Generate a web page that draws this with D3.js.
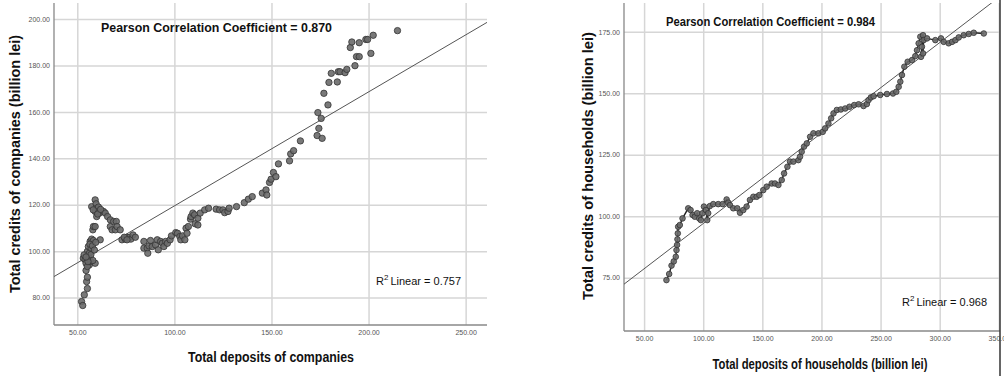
<!DOCTYPE html>
<html>
<head>
<meta charset="utf-8">
<script src="https://cdn.jsdelivr.net/npm/d3@7"></script>
<style>
  body { margin: 0; background: #fff; }
  svg { display: block; font-family: "Liberation Sans", Arial, sans-serif; }
</style>
</head>
<body>
<svg id="chart" width="1004" height="376"></svg>
<script>
'use strict';

// companies: deposits (x) vs credits (y), billion lei
var companyDeposits = [52.2, 52.8, 53.6, 55.2, 54.8, 55.2, 54.5, 53.1, 54.0, 55.2, 54.5, 56.2, 56.9, 59.2,
  55.2, 55.7, 56.6, 57.4, 58.3, 55.2, 53.5, 56.2, 57.1, 58.0, 58.3, 59.2, 57.4, 59.2, 59.7, 60.0, 60.9,
  60.0, 61.4, 59.2, 61.8, 63.5, 64.4, 65.6, 67.0, 67.0, 67.9, 68.7, 70.1, 69.6, 70.5, 72.1, 73.0, 74.7,
  75.6, 76.9, 77.6, 78.7, 79.9, 74.2, 75.6, 56.0, 57.0, 58.0, 56.5, 57.8, 55.5, 54.5, 58.8, 59.5, 58.2,
  60.5, 62.0,
  84.3, 84.3, 86.0, 86.3, 86.9, 87.7, 88.6, 90.3, 91.2, 91.7, 92.9, 93.8, 94.6, 95.5, 96.4, 97.8, 98.5,
  100.7, 101.6, 102.8, 103.3, 104.2, 105.4, 106.0, 106.5, 107.2, 108.3, 108.6, 109.5, 110.4, 110.7, 112.1,
  112.1, 113.3, 115.6, 117.6, 121.5, 123.3, 125.0, 125.9, 127.6, 128.2, 132.0, 136.0, 138.1, 140.1, 145.3,
  147.2, 147.6, 149.0, 149.8, 151.0, 152.3, 153.6, 159.3, 159.9, 161.4, 164.9, 173.5, 176.1, 174.4, 175.6,
  173.9, 179.1, 177.0, 179.6, 180.8, 183.9, 184.4, 185.3, 187.9, 188.8, 190.6, 191.4, 193.0, 193.8, 195.2,
  195.2, 198.6, 199.5, 201.2, 202.4, 214.9];
var companyCredits = [78.3, 76.6, 81.2, 83.9, 86.9, 88.8, 91.7, 97.0, 96.3, 97.7, 94.8, 94.1, 95.6, 94.8,
  99.9, 102.0, 104.2, 105.2, 104.6, 93.4, 98.4, 99.1, 101.3, 109.2, 110.6, 110.6, 119.2, 122.1, 120.4, 118.5, 119.0,
  114.9, 116.4, 117.1, 104.9, 117.1, 116.4, 114.9, 113.5, 110.6, 109.2, 112.8, 112.8, 109.2, 110.6, 109.2, 104.9, 105.2,
  106.0, 106.0, 105.2, 107.0, 106.0, 106.0, 104.9, 97.0, 98.5, 96.0, 103.0, 102.3, 95.5, 97.5, 100.5, 103.8, 117.8,
  116.0, 118.0,
  104.2, 101.3, 101.3, 99.1, 102.3, 104.6, 102.0, 102.7, 104.9, 100.6, 104.2, 103.4, 102.0, 104.2, 103.4, 104.9, 106.6,
  108.0, 107.7, 106.3, 104.9, 106.6, 104.9, 109.9, 107.7, 110.6, 113.8, 114.9, 116.4, 115.7, 111.8, 111.3,
  114.2, 116.4, 117.8, 118.5, 118.1, 117.8, 117.8, 116.6, 117.1, 118.5, 119.2, 120.9, 122.4, 123.5, 125.0,
  126.4, 124.2, 129.6, 131.0, 133.9, 132.1, 137.6, 138.9, 141.9, 143.3, 147.5, 149.8, 148.6, 152.9, 157.2,
  159.7, 163.0, 168.0, 172.7, 176.6, 172.9, 177.3, 177.3, 176.9, 178.3, 187.7, 190.1, 179.9, 183.8, 183.8,
  189.8, 191.2, 191.2, 185.2, 193.0, 195.0];

// households, in time order (the points are joined)
var householdDeposits = [68.9, 71.2, 73.2, 75.1, 76.8, 77.4, 77.9, 78.2, 78.5, 78.8, 80.2, 82.5, 87.3, 89.3,
  91.0, 92.9, 94.9, 96.6, 98.0, 99.4, 100.6, 102.3, 103.4, 104.2, 105.6, 108.5, 112.7, 116.4, 119.8, 121.2,
  122.6, 125.4, 128.8, 131.1, 133.9, 136.7, 139.5, 142.4, 145.2, 147.5, 150.8, 153.7, 157.9, 160.7, 163.6,
  166.4, 168.4, 171.2, 173.4, 176.3, 180.5, 181.9, 183.3, 185.3, 187.6, 190.4, 193.2, 197.5, 201.1, 203.1,
  205.9, 208.2, 210.2, 213.0, 216.4, 220.1, 223.7, 227.7, 231.4, 235.6, 238.4, 239.8, 241.8, 244.1, 249.7,
  255.4, 260.5, 263.3, 265.3, 266.7, 268.1, 270.1, 272.9, 276.6, 279.4, 280.8, 282.2, 283.6, 285.9, 285.0,
  284.2, 285.9, 286.4, 289.3, 296.3, 301.1, 303.4, 307.6, 310.5, 313.3, 316.1, 320.3, 324.6, 328.8, 337.3];
var householdCredits = [74.0, 76.5, 79.9, 81.6, 83.5, 86.2, 88.3, 90.6, 93.0, 95.7, 96.4, 99.1, 103.2, 102.5,
  100.5, 99.8, 101.2, 99.1, 98.4, 101.2, 103.9, 102.5, 98.4, 101.2, 104.1, 104.9, 104.9, 104.9, 106.8, 105.5,
  104.5, 103.2, 103.2, 101.4, 102.5, 103.9, 106.6, 107.9, 107.9, 108.6, 110.6, 112.0, 113.3, 113.3, 112.7,
  114.7, 117.4, 120.1, 122.2, 122.2, 122.8, 124.2, 126.2, 128.3, 129.6, 132.3, 133.7, 133.7, 134.3, 135.7,
  137.7, 139.8, 141.8, 143.2, 143.4, 143.8, 144.5, 145.2, 145.5, 144.8, 145.6, 147.2, 148.3, 148.8, 149.3,
  149.7, 149.9, 150.6, 152.6, 154.7, 157.4, 160.8, 162.8, 163.5, 165.1, 167.5, 170.3, 173.0, 173.6, 168.9,
  164.8, 166.2, 171.6, 172.3, 171.6, 172.3, 170.9, 170.3, 170.9, 171.6, 172.7, 173.6, 174.1, 174.6, 174.3];

var companyXTicks = [50, 100, 150, 200, 250];
var companyYTicks = [80, 100, 120, 140, 160, 180, 200];
var householdXTicks = [50, 100, 150, 200, 250, 300, 350];
var householdYTicks = [75, 100, 125, 150, 175];

// fit lines as drawn in the picture: [intercept, slope]
var companyFit = [70.4, 0.491];
var householdFit = [60.2, 0.368];

var svg = d3.select('#chart');
var fmt = d3.format('.2f');

function drawPanel(opts) {
  var x = d3.scaleLinear().domain(opts.xDomain).range([opts.left, opts.right]);
  var y = d3.scaleLinear().domain(opts.yDomain).range([opts.bottom, opts.top]);
  var g = svg.append('g');

  g.append('clipPath').attr('id', opts.id + '-clip')
    .append('rect')
    .attr('x', opts.left).attr('y', opts.top)
    .attr('width', opts.right - opts.left).attr('height', opts.bottom - opts.top);

  // grid
  g.append('g').attr('transform', 'translate(0,' + opts.bottom + ')')
    .call(d3.axisBottom(x).tickValues(opts.xTicks).tickSize(-(opts.bottom - opts.top)).tickFormat(''))
    .call(function (s) {
      s.select('.domain').remove();
      s.selectAll('line').attr('stroke', '#d6d6d6').attr('stroke-width', 1.5);
    });
  g.append('g').attr('transform', 'translate(' + opts.left + ',0)')
    .call(d3.axisLeft(y).tickValues(opts.yTicks).tickSize(-(opts.right - opts.left)).tickFormat(''))
    .call(function (s) {
      s.select('.domain').remove();
      s.selectAll('line').attr('stroke', '#d6d6d6').attr('stroke-width', 1.5);
    });

  // tick labels
  g.append('g').attr('transform', 'translate(0,' + opts.bottom + ')')
    .call(d3.axisBottom(x).tickValues(opts.xTicks).tickSize(0).tickPadding(opts.xPad).tickFormat(fmt))
    .call(function (s) {
      s.select('.domain').remove();
      s.selectAll('text').attr('font-size', 7).attr('fill', '#555').attr('font-family', 'Liberation Sans, Arial');
    });
  g.append('g').attr('transform', 'translate(' + opts.left + ',0)')
    .call(d3.axisLeft(y).tickValues(opts.yTicks).tickSize(0).tickPadding(4).tickFormat(fmt))
    .call(function (s) {
      s.select('.domain').remove();
      s.selectAll('text').attr('font-size', 7).attr('fill', '#555').attr('font-family', 'Liberation Sans, Arial');
    });

  // axis lines
  g.append('line').attr('x1', opts.left).attr('x2', opts.left).attr('y1', opts.top).attr('y2', opts.bottom)
    .attr('stroke', '#888').attr('stroke-width', 1.3);
  g.append('line').attr('x1', opts.left).attr('x2', opts.right).attr('y1', opts.bottom).attr('y2', opts.bottom)
    .attr('stroke', '#888').attr('stroke-width', 1.3);
  if (opts.frameRight) {
    g.append('line').attr('x1', opts.right).attr('x2', opts.right).attr('y1', 0).attr('y2', 376)
      .attr('stroke', '#333').attr('stroke-width', 1.5);
  }

  var plot = g.append('g').attr('clip-path', 'url(#' + opts.id + '-clip)');

  // fit line
  var fx = opts.xDomain;
  plot.append('line')
    .attr('x1', x(fx[0])).attr('y1', y(opts.fit[0] + opts.fit[1] * fx[0]))
    .attr('x2', x(fx[1])).attr('y2', y(opts.fit[0] + opts.fit[1] * fx[1]))
    .attr('stroke', '#555').attr('stroke-width', 1);

  var pts = opts.xs.map(function (d, i) { return [d, opts.ys[i]]; });

  if (opts.joined) {
    plot.append('path').datum(pts)
      .attr('d', d3.line().x(function (d) { return x(d[0]); }).y(function (d) { return y(d[1]); }))
      .attr('fill', 'none').attr('stroke', '#222').attr('stroke-width', 1.4);
  }

  plot.selectAll('circle.pt').data(pts).enter()
    .append('circle').attr('class', 'pt')
    .attr('cx', function (d) { return x(d[0]); })
    .attr('cy', function (d) { return y(d[1]); })
    .attr('r', opts.r)
    .attr('fill', '#6a6a6a').attr('fill-opacity', 0.9)
    .attr('stroke', '#333').attr('stroke-width', 0.8);

  // texts
  g.append('text').attr('x', opts.pearson.x).attr('y', opts.pearson.y)
    .attr('font-size', 13).attr('font-weight', 'bold').attr('fill', '#111')
    .attr('textLength', opts.pearson.w).attr('lengthAdjust', 'spacingAndGlyphs')
    .text('Pearson Correlation Coefficient = ' + opts.pearson.v);

  var r2 = g.append('text').attr('x', opts.r2.x).attr('y', opts.r2.y)
    .attr('font-size', 11).attr('fill', '#111');
  r2.append('tspan').text('R');
  r2.append('tspan').attr('dy', -5).attr('font-size', 8).text('2');
  r2.append('tspan').attr('dy', 5).attr('dx', 2).text('Linear = ' + opts.r2.v);

  g.append('text')
    .attr('transform', 'translate(' + opts.yTitle.x + ',' + opts.yTitle.y + ') rotate(-90)')
    .attr('text-anchor', 'middle').attr('dy', '0.35em')
    .attr('font-size', 14).attr('font-weight', 'bold').attr('fill', '#111')
    .attr('textLength', opts.yTitle.w).attr('lengthAdjust', 'spacingAndGlyphs')
    .text(opts.yTitle.t);

  g.append('text')
    .attr('x', opts.xTitle.x).attr('y', opts.xTitle.y)
    .attr('text-anchor', 'middle').attr('dy', '0.35em')
    .attr('font-size', 14).attr('font-weight', 'bold').attr('fill', '#111')
    .attr('textLength', opts.xTitle.w).attr('lengthAdjust', 'spacingAndGlyphs')
    .text(opts.xTitle.t);
}

drawPanel({
  id: 'companies',
  left: 54, right: 487, top: 3, bottom: 325,
  xDomain: [38, 261], yDomain: [68.2, 206.9],
  xTicks: companyXTicks, yTicks: companyYTicks, xPad: 5,
  xs: companyDeposits, ys: companyCredits, fit: companyFit,
  r: 3.2, joined: false,
  pearson: { x: 101, y: 32, w: 231, v: '0.870' },
  r2: { x: 376, y: 285, v: '0.757' },
  yTitle: { x: 15, y: 164, w: 258, t: 'Total credits of companies (billion lei)' },
  xTitle: { x: 271, y: 357, w: 166, t: 'Total deposits of companies' }
});

drawPanel({
  id: 'households',
  left: 624, right: 1000, top: 3, bottom: 331,
  xDomain: [33, 351], yDomain: [53.3, 186.7],
  xTicks: householdXTicks, yTicks: householdYTicks, xPad: 5,
  xs: householdDeposits, ys: householdCredits, fit: householdFit,
  r: 2.8, joined: true, frameRight: true,
  pearson: { x: 666, y: 26, w: 209, v: '0.984' },
  r2: { x: 902, y: 306, v: '0.968' },
  yTitle: { x: 588, y: 166, w: 268, t: 'Total credits of households (billion lei)' },
  xTitle: { x: 820, y: 364, w: 215, t: 'Total deposits of households (billion lei)' }
});
</script>
</body>
</html>
